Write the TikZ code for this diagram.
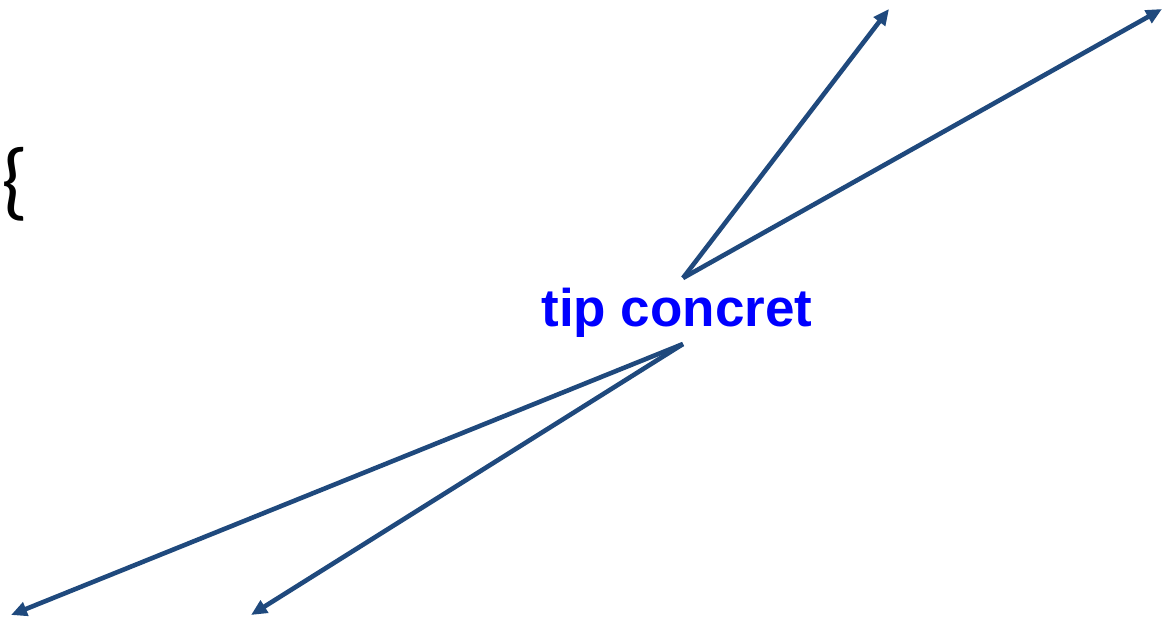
\documentclass[tikz,border=0pt]{standalone}
\usepackage{fontspec}
\setmainfont{Liberation Sans}
\newfontfamily\bracefont{Carlito}
\usetikzlibrary{arrows.meta}
\definecolor{arrowblue}{RGB}{31,73,125}
\begin{document}
\begin{tikzpicture}[x=1pt,y=-1pt,
  conn/.style={draw=arrowblue,line width=4.6pt,-{Triangle[length=16pt,width=14pt]}}]
\useasboundingbox (0,0) rectangle (1171,627);
\node[inner sep=0pt,anchor=base,font=\bfseries\fontsize{53}{60}\selectfont,text=blue] (lbl) at (677,326) {tip concret};
\node[inner sep=0pt,font=\bracefont\fontsize{86}{100}\selectfont] (br) at (15,184) {\{};
\coordinate (s1) at (683,278);
\coordinate (s2) at (683,344);
\coordinate (t1) at (889,9);
\coordinate (t2) at (1162,9);
\coordinate (t3) at (11,615);
\coordinate (t4) at (251,615);
\draw[conn] (s1) -- (t1);
\draw[conn] (s1) -- (t2);
\draw[conn] (s2) -- (t3);
\draw[conn] (s2) -- (t4);
\end{tikzpicture}
\end{document}
